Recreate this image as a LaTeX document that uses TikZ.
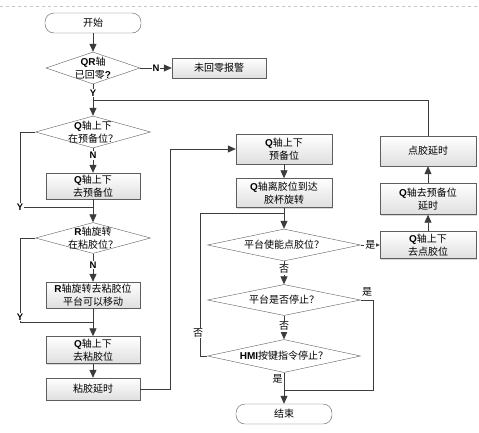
\documentclass[tikz,border=0pt]{standalone}
\usepackage{fontspec}
\setmainfont{Noto Sans CJK SC}
\newfontfamily\latinb{Liberation Sans}
\newcommand\lb[1]{{\latinb\bfseries #1}}
\usetikzlibrary{shapes.geometric,arrows.meta,shadows}
\definecolor{linegray}{HTML}{3C3C3C}
\definecolor{boxgray}{HTML}{5E5E5E}

\tikzset{
  procbox/.style={rectangle, draw=boxgray, top color=white, bottom color=gray!25,
    inner sep=0pt, align=center, font=\fontsize{10}{13.5}\selectfont,
    drop shadow={shadow xshift=1pt, shadow yshift=-1pt, opacity=.3}},
  decbox/.style={diamond, draw=boxgray, fill=white, aspect=2.8,
    inner xsep=-14pt, inner ysep=-8pt, align=center,
    font=\fontsize{10}{13.5}\selectfont},
  termbox/.style={rectangle, rounded corners=9pt, draw=boxgray, fill=white,
    minimum width=96pt, minimum height=20pt, font=\fontsize{10}{12}\selectfont},
  arr/.style={draw=linegray, line width=.8pt, -{Triangle[length=8pt,width=7pt]}},
  plain/.style={draw=linegray, line width=.8pt},
  yn/.style={font=\latinb\bfseries\fontsize{9.5}{9.5}\selectfont},
  sf/.style={font=\fontsize{10}{10}\selectfont}
}

\begin{document}
\begin{tikzpicture}[x=1pt,y=-1pt]
  \useasboundingbox (0,0) rectangle (479,432);
  \draw[gray!45, dashed] (0,6) -- (479,6);

  \begin{scope}[every node/.style={termbox}]
    \node (start) at (93,23)  {开始};
    \node (stop)  at (284,414) {结束};
  \end{scope}

  \begin{scope}[every node/.style={decbox}]
    \node[minimum width=94pt, minimum height=32pt]  (d1) at (93,68)   {\lb{QR}轴\\已回零\lb{?}};
    \node[minimum width=115pt, minimum height=32pt] (d2) at (93,132)  {\lb{Q}轴上下\\在预备位？};
    \node[minimum width=115pt, minimum height=31pt] (d3) at (93,238)  {\lb{R}轴旋转\\在粘胶位？};
    \node[minimum width=153pt, minimum height=32pt] (e1) at (284,245) {平台使能点胶位？};
    \node[minimum width=153pt, minimum height=31pt] (e2) at (284,300) {平台是否停止？};
    \node[minimum width=153pt, minimum height=33pt] (e3) at (284,356) {\lb{HMI}按键指令停止？};
  \end{scope}

  \begin{scope}[every node/.style={procbox}]
    \node[minimum width=94pt, minimum height=20pt] (alarm) at (219,68)  {未回零报警};
    \node[minimum width=94pt, minimum height=26pt] (b1)    at (93,186)  {\lb{Q}轴上下\\去预备位};
    \node[minimum width=94pt, minimum height=26pt] (b2)    at (93,295)  {\lb{R}轴旋转去粘胶位\\平台可以移动};
    \node[minimum width=94pt, minimum height=27pt] (b3)    at (93,350)  {\lb{Q}轴上下\\去粘胶位};
    \node[minimum width=94pt, minimum height=22pt] (b4)    at (93,389)  {粘胶延时};
    \node[minimum width=96pt, minimum height=30pt] (c1)    at (284,149) {\lb{Q}轴上下\\预备位};
    \node[minimum width=96pt, minimum height=29pt] (c2)    at (284,193) {\lb{Q}轴离胶位到达\\胶杯旋转};
    \node[minimum width=96pt, minimum height=27pt] (r1)    at (428,245) {\lb{Q}轴上下\\去点胶位};
    \node[minimum width=96pt, minimum height=31pt] (r2)    at (428,199) {\lb{Q}轴去预备位\\延时};
    \node[minimum width=96pt, minimum height=30pt] (r3)    at (428,151) {点胶延时};
  \end{scope}

  % joints of the loops
  \coordinate (j0) at (93,100);
  \coordinate (y1) at (20,207);
  \coordinate (k1) at (93,207);
  \coordinate (y2) at (20,322);
  \coordinate (k2) at (93,322);
  \coordinate (j1) at (284,213);
  \coordinate (j2) at (284,390);

  \begin{scope}[every node/.style={fill=white, inner sep=1pt}]
    \begin{scope}[every edge/.style={arr}]
      \path (start) edge (d1);
      \path (d1)    edge node[yn] {N} (alarm);
      \path (d1)    edge node[yn, pos=.28] {Y} (d2);
      \path (d2)    edge node[yn, pos=.3] {N} (b1);
      \path (b1)    edge (d3);
      \path (d3)    edge node[yn, pos=.4] {N} (b2);
      \path (b2)    edge (b3);
      \path (b3)    edge (b4);
      \path (c1)    edge (c2);
      \path (c2)    edge (e1);
      \path (e1)    edge node[sf] {是} (r1);
      \path (r1)    edge (r2);
      \path (r2)    edge (r3);
      \path (e1)    edge node[sf, pos=.35] {否} (e2);
      \path (e2)    edge node[sf, pos=.45] {否} (e3);
      \path (e3)    edge node[sf, pos=.2, left, fill=none] {是} (stop);
    \end{scope}

    \draw[plain] (d2.west) -| (y1) -- (k1);
    \node[yn] at (y1) {Y};
    \draw[plain] (d3.west) -| (y2) -- (k2);
    \node[yn] at (20,317) {Y};
    \draw[arr] (b4.east) -- ++(30,0) |- (c1.west);
    \draw[plain] (r3.north) |- (j0);
    \draw[plain] (e2.east) -- ++(13,0) |- (j2);
    \node[sf, fill=none] at (367,292) {是};
    \draw[plain] (e3.west) -- ++(-7,0) |- (j1);
    \node[sf] at (198,333) {否};
  \end{scope}

\end{tikzpicture}
\end{document}
